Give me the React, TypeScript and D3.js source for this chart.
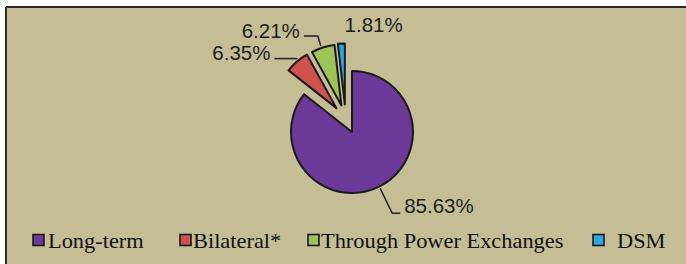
import React from "react";
import * as d3 from "d3";

// chart data
const categories = ["Long-term", "Bilateral*", "Through Power Exchanges", "DSM"];
const shares = [85.63, 6.35, 6.21, 1.81];
const shareLabels = ["85.63%", "6.35%", "6.21%", "1.81%"];
const colors = ["#6b3a99", "#d0524f", "#9cc25a", "#29a9e0"];
const exploded = [false, true, true, true];

const W = 686;
const H = 264;
const cx = 352;
const cy = 132;
const radius = 61;
const explodeDist = 28.5;

// label layout: angle on the rim (deg, relative to slice), elbow and run of leader
const labelLayout = [
  { rim: 153.4, elbow: [12, 25], run: 8, anchor: "start", dy: 0 },
  { rim: 321.8, elbow: [0, 0], run: -23, anchor: "end", dy: 1 },
  { rim: 340.9, elbow: [-3, -10], run: -14, anchor: "end", dy: 2 },
  { rim: 357, elbow: null, run: 0, anchor: "start", dy: 0 },
];

const legendSquareX = [33, 180, 308, 593];
const legendTextX = [48, 193, 321, 617];

const rad = (deg: number) => (deg * Math.PI) / 180;

export default function App() {
  const pie = d3
    .pie<number>()
    .sort(null)
    .value((d) => d)
    .startAngle(0)
    .endAngle(2 * Math.PI);
  const arcs = pie(shares);
  const arc = d3.arc<d3.PieArcDatum<number>>().innerRadius(0).outerRadius(radius);

  const group = arcs.filter((_, i) => exploded[i]);
  const groupMid = (group[0].startAngle + group[group.length - 1].endAngle) / 2;

  const offsets = arcs.map((a, i) => {
    if (!exploded[i]) return [0, 0];
    const mid = (a.startAngle + a.endAngle) / 2;
    const dir = (mid + groupMid) / 2;
    return [explodeDist * Math.sin(dir), -explodeDist * Math.cos(dir)];
  });

  return (
    <svg
      width={W}
      height={H}
      style={{ position: "absolute", left: 0, top: 0, display: "block" }}
    >
      <rect x={0} y={0} width={W} height={H} fill="#ffffff" />
      <rect x={6} y={7} width={W - 6} height={H - 7} fill="#c6bd97" />
      <line x1={6} y1={7} x2={W} y2={7} stroke="#2b2b2b" strokeWidth={2} />
      <line x1={6} y1={7} x2={6} y2={H} stroke="#2b2b2b" strokeWidth={2} />

      {arcs.map((a, i) => (
        <path
          key={categories[i]}
          d={arc(a) || ""}
          transform={`translate(${cx + offsets[i][0]},${cy + offsets[i][1]})`}
          fill={colors[i]}
          stroke="#1a1a1a"
          strokeWidth={2}
          strokeLinejoin="round"
        />
      ))}

      {arcs.map((a, i) => {
        const lay = labelLayout[i];
        const ox = cx + offsets[i][0];
        const oy = cy + offsets[i][1];
        const r = radius + 2;
        const sx = ox + r * Math.sin(rad(lay.rim));
        const sy = oy - r * Math.cos(rad(lay.rim));
        if (!lay.elbow) {
          return (
            <text
              key={"l" + i}
              x={sx + 3}
              y={sy - 10}
              fontFamily="'Liberation Sans', Arial, sans-serif"
              fontSize={20.5}
              fill="#1e1e1e"
            >
              {shareLabels[i]}
            </text>
          );
        }
        const ex = sx + lay.elbow[0];
        const ey = sy + lay.elbow[1];
        const hx = ex + lay.run;
        const tx = hx + (lay.anchor === "start" ? 4 : -4);
        return (
          <g key={"l" + i}>
            <polyline
              points={`${sx},${sy} ${ex},${ey} ${hx},${ey}`}
              fill="none"
              stroke="#222"
              strokeWidth={1.5}
            />
            <text
              x={tx}
              y={ey + lay.dy}
              textAnchor={lay.anchor}
              fontFamily="'Liberation Sans', Arial, sans-serif"
              fontSize={20.5}
              fill="#1e1e1e"
            >
              {shareLabels[i]}
            </text>
          </g>
        );
      })}

      {categories.map((c, i) => (
        <g key={"lg" + c}>
          <rect
            x={legendSquareX[i]}
            y={234.5}
            width={11}
            height={11}
            fill={colors[i]}
            stroke="#1a1a1a"
            strokeWidth={1.6}
          />
          <text
            transform={`translate(${legendTextX[i]},247.5) scale(1.12,1)`}
            fontFamily="'Liberation Serif', 'Times New Roman', serif"
            fontSize={20}
            fill="#111"
          >
            {c}
          </text>
        </g>
      ))}
    </svg>
  );
}
